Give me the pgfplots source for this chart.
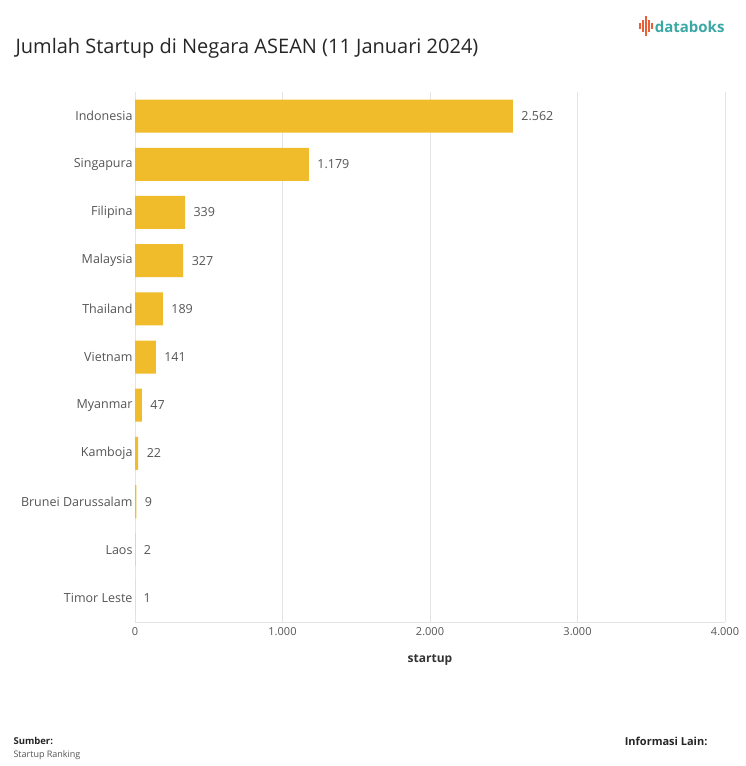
\documentclass[border=0pt]{standalone}
\usepackage{pgfplots}
\pgfplotsset{compat=1.18}
\usepackage{fontspec}
\setmainfont{Open Sans}
\definecolor{barc}{HTML}{F0BC2B}
\definecolor{lbl}{HTML}{555555}
\definecolor{grd}{HTML}{E4E4E4}
\definecolor{teal}{HTML}{3AA8A4}
\definecolor{logored}{HTML}{E8603A}
\begin{document}
\begin{tikzpicture}
\fill[white] (0pt,0pt) rectangle (745pt,766pt);
% title and logo
\node[anchor=west, font=\fontsize{20}{24}\selectfont, text=black!85] at (12pt,718pt) {Jumlah Startup di Negara ASEAN (11 Januari 2024)};
\node[anchor=east, font=\fontsize{15}{18}\selectfont\bfseries, text=teal] at (728pt,739pt) {databoks};
\foreach \xx/\hh in {640/3,643/6,646/10,649/6,652/3}
  \draw[logored, line width=1.4pt] (\xx pt,740pt-\hh pt) -- (\xx pt,740pt+\hh pt);
% footer
\node[anchor=west, font=\fontsize{9.5}{11}\selectfont\bfseries, text=black!85] at (10pt,25pt) {Sumber:};
\node[anchor=west, font=\fontsize{9}{11}\selectfont, text=lbl] at (10pt,11pt) {Startup Ranking};
\node[anchor=east, font=\fontsize{11}{13}\selectfont\bfseries, text=black!85] at (711pt,25pt) {Informasi Lain:};
\begin{axis}[
    at={(135pt,144pt)}, anchor=south west,
    scale only axis, width=590pt, height=530pt,
    xbar, bar width=33pt,
    xmin=0, xmax=4000,
    ymin=-0.5, ymax=10.5, y dir=reverse,
    ytick={0,...,10},
    yticklabels={Indonesia,Singapura,Filipina,Malaysia,Thailand,Vietnam,Myanmar,Kamboja,Brunei Darussalam,Laos,Timor Leste},
    xtick={0,1000,2000,3000,4000},
    /pgf/number format/1000 sep={.},
    /pgf/number format/assume math mode=true,
    xmajorgrids, grid style={grd, line width=0.8pt},
    axis line style={draw=none},
    extra description/.code={\draw[grd, line width=0.8pt] (axis cs:0,10.5) -- (axis cs:4000,10.5);},
    major tick length=0,
    yticklabel style={font=\fontsize{12.5}{14}\selectfont, text=lbl, xshift=1pt},
    xticklabel style={font=\fontsize{11}{13}\selectfont, text=lbl, yshift=-2pt},
    xlabel={startup},
    xlabel style={font=\fontsize{12}{14}\selectfont\bfseries, text=black!80, yshift=-12pt},
    nodes near coords,
    nodes near coords style={font=\fontsize{12.5}{14}\selectfont, text=lbl, xshift=5pt, /pgf/number format/1000 sep={.}, /pgf/number format/assume math mode=true},
  ]
  \addplot[fill=barc, draw=none] coordinates {
    (2562,0) (1179,1) (339,2) (327,3) (189,4) (141,5) (47,6) (22,7) (9,8) (2,9) (1,10)
  };
\end{axis}
\end{tikzpicture}
\end{document}
